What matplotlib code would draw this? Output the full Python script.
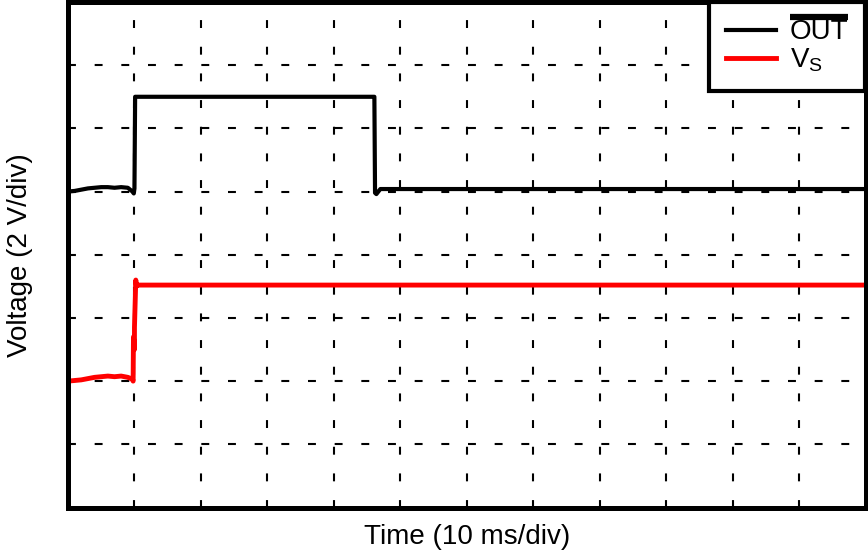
import matplotlib

matplotlib.use("Agg")
import matplotlib.pyplot as plt
from matplotlib.lines import Line2D

plt.rcParams["font.family"] = ["Liberation Sans", "DejaVu Sans"]
plt.rcParams["mathtext.fontset"] = "custom"
plt.rcParams["mathtext.rm"] = "Liberation Sans"
plt.rcParams["mathtext.it"] = "Liberation Sans"

# ── scope traces, in divisions (x: 10 ms/div, y: 2 V/div) ──
out_t = [0.0, 0.1, 0.2, 0.3, 0.4, 0.5, 0.6, 0.7, 0.8, 0.9, 0.97, 0.99,
         1.0, 1.01, 4.6, 4.61, 4.62, 4.64, 4.7, 12.0]
out_v = [5.0, 5.01, 5.03, 5.05, 5.06, 5.07, 5.07, 5.06, 5.07, 5.06, 5.0, 4.97,
         5.05, 6.5, 6.5, 6.5, 4.98, 4.96, 5.04, 5.04]

vs_t = [0.0, 0.1, 0.2, 0.3, 0.4, 0.5, 0.6, 0.7, 0.8, 0.9, 0.97, 0.98,
        0.985, 1.0, 1.0, 1.02, 1.03, 1.05, 12.0]
vs_v = [2.0, 2.01, 2.02, 2.04, 2.06, 2.07, 2.08, 2.07, 2.08, 2.06, 2.03, 2.0,
        2.7, 2.5, 2.85, 3.6, 3.5, 3.52, 3.52]

n_xdiv = 12
n_ydiv = 8

fig = plt.figure(figsize=(8.68, 5.53), dpi=100)
ax = fig.add_axes([68 / 868, 45.5 / 553, 797.5 / 868, 505.5 / 553])

ax.plot(out_t, out_v, color="black", lw=3.0, label="OUT")
ax.plot(vs_t, vs_v, color="#ff0000", lw=3.5, label=r"$\mathrm{V}_\mathrm{S}$")

ax.set_xlim(0, n_xdiv)
ax.set_ylim(0, n_ydiv)
ax.set_xticks(range(1, n_xdiv))
ax.set_yticks(range(1, n_ydiv))
ax.tick_params(length=0, labelbottom=False, labelleft=False)
ax.grid(True, color="black", lw=1.5, linestyle=(0, (3.8, 9.0)))

for s in ax.spines.values():
    s.set_linewidth(3.6)

ax.set_xlabel("Time (10 ms/div)", fontsize=20, labelpad=12)
ax.set_ylabel("Voltage (2 V/div)", fontsize=20, labelpad=25)

leg = ax.legend(loc="upper right", borderaxespad=0, fancybox=False,
                framealpha=1, edgecolor="black", fontsize=20,
                handlelength=1.8, handletextpad=0.5, borderpad=0.62,
                labelspacing=0.05)
leg.get_frame().set_linewidth(3.0)

# thick overline over OUT (active-low signal)
fig.canvas.draw()
bb = leg.get_texts()[0].get_window_extent()
y_ov = bb.y1 + 2
fig.add_artist(Line2D([bb.x0, bb.x1], [y_ov, y_ov], transform=None,
                      color="black", lw=4.5, solid_capstyle="butt"))

fig.savefig("out.png", dpi=100)
